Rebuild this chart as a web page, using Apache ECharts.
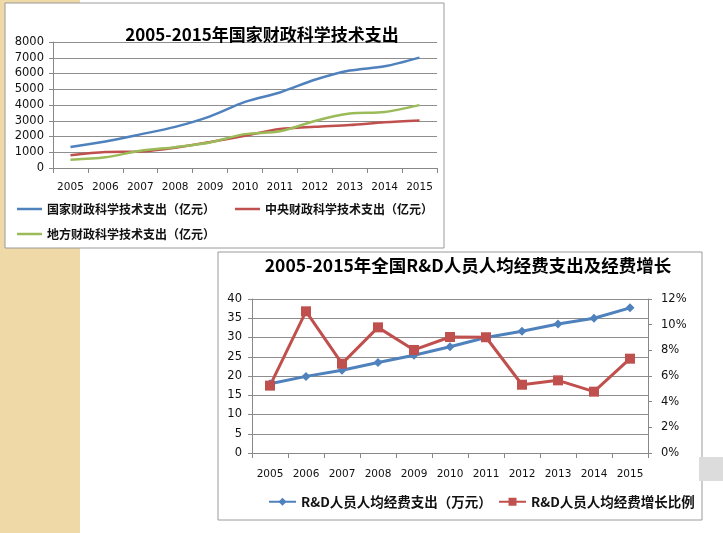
<!DOCTYPE html>
<html>
<head>
<meta charset="utf-8">
<script src="https://cdn.jsdelivr.net/npm/echarts@6/dist/echarts.min.js"></script>
<style>
html,body{margin:0;padding:0;background:#fff;}
#c{width:723px;height:533px;}
</style>
</head>
<body>
<div id="c"></div>
<script>
const years = ['2005','2006','2007','2008','2009','2010','2011','2012','2013','2014','2015'];
const nationalSpend = [1335, 1689, 2136, 2611, 3277, 4197, 4797, 5600, 6185, 6455, 7006];
const centralSpend = [808, 1010, 1044, 1287, 1653, 2046, 2469, 2614, 2729, 2899, 3012];
const localSpend = [527, 679, 1092, 1324, 1624, 2151, 2328, 2987, 3456, 3555, 3994];
const perCapita = [18.0, 19.9, 21.5, 23.5, 25.4, 27.6, 30.0, 31.6, 33.5, 35.0, 37.7];
const growthRate = [0.0525, 0.1104, 0.0696, 0.0979, 0.0803, 0.0904, 0.0902, 0.0532, 0.0566, 0.0478, 0.0735];
const nameN = '国家财政科学技术支出（亿元）';
const nameC = '中央财政科学技术支出（亿元）';
const nameL = '地方财政科学技术支出（亿元）';
const nameP = 'R&D人员人均经费支出（万元）';
const nameG = 'R&D人员人均经费增长比例';

const BLUE = '#4F81BD', RED = '#C0504D', GREEN = '#9BBB59';
const grid = '#8E8E8E', axisCol = '#888';
const numFont = 'DejaVu Sans';
const cjk = '"Noto Sans CJK SC", sans-serif';
const lineIcon = 'path://M0,0H25V2.5H0Z';

const chart = echarts.init(document.getElementById('c'));
function catAxis(gi, margin){
  return {type:'category', gridIndex:gi, data:years, boundaryGap:true,
    axisLine:{lineStyle:{color:axisCol}}, axisTick:{show:true,length:5,lineStyle:{color:axisCol}},
    axisLabel:{color:'#111', fontFamily:numFont, fontSize:10.5, margin:margin}};
}
function smallLegend(name, left, top){
  return {data:[name], left:left, top:top, icon:lineIcon, itemWidth:25, itemHeight:2.5, itemGap:0,
    textStyle:{fontFamily:cjk, fontSize:12, fontWeight:'bold', color:'#111'}};
}
chart.setOption({
  animation:false,
  graphic:[
    {type:'rect', z:-20, shape:{x:0,y:0,width:80,height:533}, style:{fill:'#EFD9A6'}},
    {type:'rect', z:-10, shape:{x:5,y:3,width:439,height:245}, style:{fill:'#fff', stroke:'#9a9a9a', lineWidth:1}},
    {type:'rect', z:-10, shape:{x:218,y:252,width:484,height:268}, style:{fill:'#fff', stroke:'#9a9a9a', lineWidth:1}},
    {type:'rect', z:-10, shape:{x:699,y:457,width:24,height:24}, style:{fill:'#dcdcdc'}}
  ],
  title:[
    {text:'2005-2015年国家财政科学技术支出', left:257, textAlign:'center', top:21,
      textStyle:{fontFamily:cjk, fontWeight:'bold', fontSize:17, color:'#000'}},
    {text:'2005-2015年全国R&D人员人均经费支出及经费增长', left:463, textAlign:'center', top:252,
      textStyle:{fontFamily:cjk, fontWeight:'bold', fontSize:17.5, color:'#000'}}
  ],
  legend:[
    smallLegend(nameN, 12, 198),
    smallLegend(nameC, 230, 198),
    smallLegend(nameL, 12, 223),
    {data:[nameP], left:263, top:490, itemWidth:27, itemHeight:10, itemGap:0,
      textStyle:{fontFamily:cjk, fontSize:13.5, fontWeight:'bold', color:'#111'}},
    {data:[nameG], left:493, top:490, itemWidth:27, itemHeight:10, itemGap:0,
      textStyle:{fontFamily:cjk, fontSize:13.5, fontWeight:'bold', color:'#111'}}
  ],
  grid:[
    {left:53, right:286, top:42, bottom:365},
    {left:252, right:75, top:299, bottom:80}
  ],
  xAxis:[catAxis(0,14), catAxis(1,16)],
  yAxis:[
    {type:'value', gridIndex:0, min:0, max:8000, interval:1000,
      axisLine:{show:true, lineStyle:{color:axisCol}}, axisTick:{show:true,length:4,lineStyle:{color:axisCol}},
      splitLine:{lineStyle:{color:grid}},
      axisLabel:{color:'#111', fontFamily:numFont, fontSize:11.5, margin:9, formatter:v=>String(v)}},
    {type:'value', gridIndex:1, min:0, max:40, interval:5,
      axisLine:{show:true, lineStyle:{color:axisCol}}, axisTick:{show:true,length:4,lineStyle:{color:axisCol}},
      splitLine:{lineStyle:{color:grid}},
      axisLabel:{color:'#111', fontFamily:numFont, fontSize:11.5, margin:10, formatter:v=>String(v)}},
    {type:'value', gridIndex:1, position:'right', min:0, max:0.12, interval:0.02,
      axisLine:{show:true, lineStyle:{color:axisCol}}, axisTick:{show:true,length:4,lineStyle:{color:axisCol}},
      splitLine:{show:false},
      axisLabel:{color:'#111', fontFamily:numFont, fontSize:11.5, margin:13,
        formatter:v=>Math.round(v*100)+'%'}}
  ],
  series:[
    {name:nameN, type:'line', xAxisIndex:0, yAxisIndex:0, data:nationalSpend, smooth:0.3,
      symbol:'none', lineStyle:{color:BLUE, width:2.5}, itemStyle:{color:BLUE}},
    {name:nameC, type:'line', xAxisIndex:0, yAxisIndex:0, data:centralSpend, smooth:0.3,
      symbol:'none', lineStyle:{color:RED, width:2.5}, itemStyle:{color:RED}},
    {name:nameL, type:'line', xAxisIndex:0, yAxisIndex:0, data:localSpend, smooth:0.3,
      symbol:'none', lineStyle:{color:GREEN, width:2.5}, itemStyle:{color:GREEN}},
    {name:nameP, type:'line', xAxisIndex:1, yAxisIndex:1, data:perCapita,
      symbol:'diamond', symbolSize:9, lineStyle:{color:BLUE, width:3}, itemStyle:{color:BLUE}},
    {name:nameG, type:'line', xAxisIndex:1, yAxisIndex:2, data:growthRate,
      symbol:'rect', symbolSize:10, lineStyle:{color:RED, width:3}, itemStyle:{color:RED}}
  ]
});
</script>
</body>
</html>
